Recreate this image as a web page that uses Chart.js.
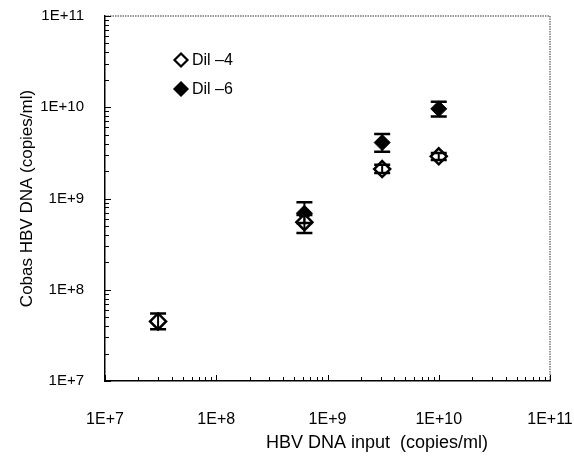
<!DOCTYPE html>
<html>
<head>
<meta charset="utf-8">
<script src="https://cdn.jsdelivr.net/npm/chart.js@4.4.1/dist/chart.umd.min.js"></script>
<style>
  html, body { margin: 0; padding: 0; background: #fff; }
  #wrap { width: 574px; height: 462px; }
</style>
</head>
<body>
<div id="wrap"><canvas id="chart" width="574" height="462"></canvas></div>
<script>
// === Data ===
const decadeTicks = [1e7, 1e8, 1e9, 1e10, 1e11];

const dil4Input = [3.0e7, 6.2e8, 3.1e9, 1.0e10];
const dil4Value = [4.5e7, 5.5e8, 2.1e9, 2.9e9];
const dil4Low   = [3.7e7, 4.2e8, 1.9e9, 2.65e9];
const dil4High  = [5.5e7, 6.6e8, 2.35e9, 3.15e9];

const dil6Input = [6.2e8, 3.1e9, 1.0e10];
const dil6Value = [6.9e8, 4.1e9, 9.6e9];
const dil6Low   = [5.4e8, 3.25e9, 7.9e9];
const dil6High  = [9.1e8, 5.1e9, 1.15e10];

const seriesLabels = ['Dil \u20134', 'Dil \u20136'];
const xTitle = 'HBV DNA input  (copies/ml)';
const yTitle = 'Cobas HBV DNA (copies/ml)';

const FONT = "'Liberation Sans', Arial, sans-serif";

function toPoints(xs, ys, lo, hi) {
    return xs.map((x, i) => ({ x: x, y: ys[i], lo: lo[i], hi: hi[i] }));
}

// log ticks 1..9 x 10^n, labels only on decades
function logTicks(min, max) {
    const ticks = [];
    for (let e = Math.log10(min); e < Math.log10(max); e++) {
        for (let m = 1; m < 10; m++) ticks.push({ value: m * Math.pow(10, e) });
    }
    ticks.push({ value: max });
    return ticks;
}

function fmtE(v) {
    const e = Math.round(Math.log10(v));
    return decadeTicks.some(t => Math.abs(t - v) / t < 1e-6) ? '1E+' + e : '';
}

// error bars, frame, inner tick marks, legend, x title
const extras = {
    id: 'extras',
    afterDatasetsDraw(chart) {
        const ctx = chart.ctx;
        const xs = chart.scales.x, ys = chart.scales.y;
        ctx.save();
        ctx.strokeStyle = '#000';
        chart.data.datasets.forEach(ds => {
            ds.data.forEach(p => {
                const px = xs.getPixelForValue(p.x);
                const top = ys.getPixelForValue(p.hi);
                const bot = ys.getPixelForValue(p.lo);
                ctx.lineWidth = 2;
                ctx.beginPath();
                ctx.moveTo(px, top); ctx.lineTo(px, bot);
                ctx.stroke();
                ctx.lineWidth = 2.5;
                ctx.beginPath();
                ctx.moveTo(px - 8, top); ctx.lineTo(px + 8, top);
                ctx.moveTo(px - 8, bot); ctx.lineTo(px + 8, bot);
                ctx.stroke();
            });
        });
        ctx.restore();
    },
    afterDraw(chart) {
        const ctx = chart.ctx;
        const a = chart.chartArea;
        const xs = chart.scales.x, ys = chart.scales.y;
        ctx.save();

        // dotted top / right frame
        ctx.strokeStyle = '#777';
        ctx.lineWidth = 1.5;
        ctx.setLineDash([1.5, 1]);
        ctx.beginPath();
        ctx.moveTo(a.left, a.top); ctx.lineTo(a.right, a.top); ctx.lineTo(a.right, a.bottom);
        ctx.stroke();
        ctx.setLineDash([]);

        // inner tick marks
        ctx.strokeStyle = '#000';
        ctx.lineWidth = 1;
        ys.ticks.forEach(t => {
            const py = Math.round(ys.getPixelForValue(t.value)) + 0.5;
            const len = t.label ? 6 : 4;
            ctx.beginPath(); ctx.moveTo(a.left, py); ctx.lineTo(a.left + len, py); ctx.stroke();
        });
        xs.ticks.forEach(t => {
            const px = Math.round(xs.getPixelForValue(t.value)) + 0.5;
            const len = t.label ? 6 : 4;
            ctx.beginPath(); ctx.moveTo(px, a.bottom); ctx.lineTo(px, a.bottom - len); ctx.stroke();
        });

        // legend
        chart.data.datasets.forEach((ds, i) => {
            const cx = 181, cy = 60 + i * 29;
            const r = 6.5;
            ctx.beginPath();
            ctx.moveTo(cx, cy - r); ctx.lineTo(cx + r, cy); ctx.lineTo(cx, cy + r); ctx.lineTo(cx - r, cy);
            ctx.closePath();
            ctx.fillStyle = ds.backgroundColor;
            ctx.fill();
            ctx.lineWidth = 2.2;
            ctx.strokeStyle = '#000';
            ctx.stroke();
            ctx.fillStyle = '#000';
            ctx.font = '16px ' + FONT;
            ctx.textBaseline = 'middle';
            ctx.textAlign = 'left';
            ctx.fillText(ds.label, cx + 11, cy + 1);
        });

        // x axis title (sits right of centre in the original)
        ctx.fillStyle = '#000';
        ctx.font = '18px ' + FONT;
        ctx.textAlign = 'center';
        ctx.textBaseline = 'middle';
        ctx.fillText(xTitle, 377, 443);
        ctx.restore();
    }
};

new Chart(document.getElementById('chart'), {
    type: 'scatter',
    data: {
        datasets: [
            {
                label: seriesLabels[0],
                data: toPoints(dil4Input, dil4Value, dil4Low, dil4High),
                pointStyle: 'rectRot',
                pointRadius: 8,
                pointBorderWidth: 2.5,
                backgroundColor: '#fff',
                borderColor: '#000'
            },
            {
                label: seriesLabels[1],
                data: toPoints(dil6Input, dil6Value, dil6Low, dil6High),
                pointStyle: 'rectRot',
                pointRadius: 8,
                pointBorderWidth: 1,
                backgroundColor: '#000',
                borderColor: '#000'
            }
        ]
    },
    options: {
        responsive: false,
        animation: false,
        events: [],
        layout: { padding: { left: 0, top: 16, right: 24, bottom: 0 } },
        plugins: { legend: { display: false }, tooltip: { enabled: false } },
        scales: {
            x: {
                type: 'logarithmic',
                min: 1e7, max: 1e11,
                afterBuildTicks: s => { s.ticks = logTicks(1e7, 1e11); },
                afterFit: s => { s.height = 81; s.paddingLeft = 0; s.paddingRight = 0; },
                grid: { display: false },
                border: { display: true, color: '#000', width: 1.5 },
                ticks: {
                    autoSkip: false, maxRotation: 0, padding: 21,
                    color: '#000', font: { family: FONT, size: 16 },
                    callback: v => fmtE(v)
                },
                title: { display: false }
            },
            y: {
                type: 'logarithmic',
                min: 1e7, max: 1e11,
                afterBuildTicks: s => { s.ticks = logTicks(1e7, 1e11); },
                afterFit: s => { s.width = 105; s.paddingTop = 0; s.paddingBottom = 0; },
                grid: { display: false },
                border: { display: true, color: '#000', width: 1.5 },
                ticks: {
                    autoSkip: false, padding: 13,
                    color: '#000', font: { family: FONT, size: 15 },
                    callback: v => fmtE(v)
                },
                title: {
                    display: true, text: yTitle,
                    color: '#000', font: { family: FONT, size: 17 },
                    padding: { top: 17, bottom: 0 }
                }
            }
        }
    },
    plugins: [extras]
});
</script>
</body>
</html>
